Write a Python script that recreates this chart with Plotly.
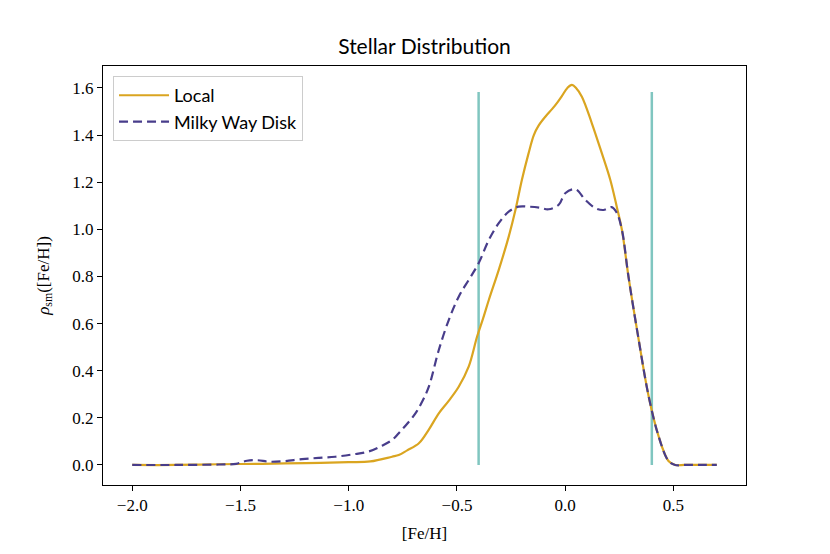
import plotly.graph_objects as go

# ---- data ----
local_x = [-2.0, -1.8, -1.6, -1.4, -1.2, -1.0, -0.9, -0.8, -0.769, -0.73, -0.676, -0.63,
           -0.584, -0.54, -0.492, -0.446, -0.407, -0.38, -0.353, -0.307, -0.261, -0.23,
           -0.2, -0.17, -0.145, -0.123, -0.09, -0.061, -0.035, -0.015, 0.01, 0.031, 0.05,
           0.077, 0.123, 0.169, 0.208, 0.238, 0.262, 0.292, 0.339, 0.385, 0.431, 0.477,
           0.508, 0.55, 0.6, 0.65, 0.7]
local_y = [0.0, 0.0, 0.003, 0.005, 0.008, 0.012, 0.015, 0.035, 0.042, 0.062, 0.092, 0.15,
           0.219, 0.27, 0.332, 0.417, 0.545, 0.62, 0.70, 0.828, 0.969, 1.082,
           1.21, 1.32, 1.40, 1.44, 1.48, 1.51, 1.54, 1.566, 1.60, 1.613, 1.60,
           1.563, 1.45, 1.323, 1.21, 1.096, 0.997, 0.80, 0.533, 0.293, 0.123, 0.017,
           0.0, 0.0, 0.0, 0.0, 0.0]

mw_x = [-2.0, -1.8, -1.6, -1.52, -1.47, -1.42, -1.37, -1.3, -1.216, -1.14, -1.062, -0.98,
        -0.908, -0.85, -0.80, -0.769, -0.73, -0.692, -0.66, -0.63, -0.584, -0.538, -0.492,
        -0.446, -0.40, -0.353, -0.307, -0.261, -0.215, -0.169, -0.12, -0.077, -0.03, 0.0,
        0.047, 0.093, 0.139, 0.177, 0.215, 0.238, 0.262, 0.292, 0.339, 0.385, 0.431,
        0.477, 0.508, 0.55, 0.6, 0.65, 0.7]
mw_y = [0.0, 0.0, 0.002, 0.005, 0.018, 0.02, 0.014, 0.016, 0.025, 0.03, 0.035, 0.045,
        0.057, 0.08, 0.106, 0.135, 0.175, 0.219, 0.27, 0.332, 0.488, 0.615, 0.714,
        0.785, 0.856, 0.955, 1.026, 1.075, 1.096, 1.096, 1.092, 1.085, 1.104, 1.153,
        1.17, 1.125, 1.09, 1.082, 1.094, 1.07, 0.997, 0.80, 0.533, 0.293, 0.123,
        0.017, 0.0, 0.0, 0.0, 0.0, 0.0]

bounds_x = [-0.4, 0.4]
bound_top = 1.583

x_ticks = [-2.0, -1.5, -1.0, -0.5, 0.0, 0.5]
y_ticks = [0.0, 0.2, 0.4, 0.6, 0.8, 1.0, 1.2, 1.4, 1.6]

fig = go.Figure()
for bx in bounds_x:
    fig.add_trace(go.Scatter(x=[bx, bx], y=[0, bound_top], mode="lines",
                             line=dict(color="#80c6c0", width=2.5),
                             showlegend=False, hoverinfo="skip"))
fig.add_trace(go.Scatter(x=local_x, y=local_y, mode="lines", name="Local",
                         line=dict(color="#daa520", width=2.2, shape="spline", smoothing=1.0)))
fig.add_trace(go.Scatter(x=mw_x, y=mw_y, mode="lines", name="Milky Way Disk",
                         line=dict(color="#483d8b", width=2.2, dash="9px,5px",
                                   shape="spline", smoothing=1.0)))

serif = "Liberation Serif"
sans = "Lato"
fig.update_layout(
    width=830, height=554,
    margin=dict(l=95, r=92, t=58, b=77),
    paper_bgcolor="white", plot_bgcolor="white",
    title=dict(text="Stellar Distribution", x=0.5, xref="paper", xanchor="center",
               y=1 - 39 / 554, yanchor="middle",
               font=dict(family=sans, size=21, color="black")),
    legend=dict(x=0.0156, y=0.976, xanchor="left", yanchor="top",
                bordercolor="#cccccc", borderwidth=1, bgcolor="white",
                font=dict(family=sans, size=18, color="black"),
                itemwidth=50, tracegroupgap=2),
    showlegend=True,
)
fig.update_xaxes(range=[-2.135, 0.835], tickvals=x_ticks, tickformat=".1f",
                 ticks="outside", ticklen=5, tickcolor="black",
                 showline=True, linecolor="black", linewidth=1, mirror=True,
                 showgrid=False, zeroline=False,
                 tickfont=dict(family=serif, size=17, color="black"),
                 title=dict(text="[Fe/H]", font=dict(family=serif, size=17, color="black"),
                            standoff=12))
fig.update_yaxes(range=[-0.085, 1.693], tickvals=y_ticks, tickformat=".1f",
                 ticks="outside", ticklen=5, tickcolor="black",
                 showline=True, linecolor="black", linewidth=1, mirror=True,
                 showgrid=False, zeroline=False,
                 tickfont=dict(family=serif, size=17, color="black"),
                 title=dict(text="<i>ρ</i><sub>sm</sub>([Fe/H])",
                            font=dict(family=serif, size=17, color="black"),
                            standoff=18))

fig.write_html("out.html")
